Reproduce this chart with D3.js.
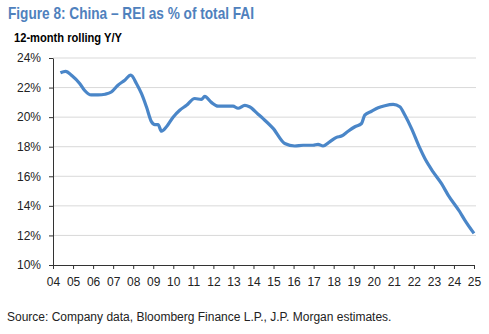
<!DOCTYPE html>
<html>
<head>
<meta charset="utf-8">
<script src="https://cdn.jsdelivr.net/npm/d3@7"></script>
<style>
body{margin:0;background:#fff;}
svg{display:block;}
</style>
</head>
<body>
<svg width="489" height="334"></svg>
<script>
const svg = d3.select('svg');

// data (decimal year, REI share of FAI in %)
const years = [2004.37,2004.63,2004.95,2005.33,2005.58,2005.91,2006.25,2006.6,2006.91,2007.24,
	2007.58,2007.88,2008.16,2008.41,2008.66,2008.91,2009.08,2009.24,2009.41,2009.66,
	2009.99,2010.32,2010.66,2011.07,2011.4,2011.57,2011.9,2012.23,2012.65,2012.98,
	2013.23,2013.57,2013.8,2014.23,2014.48,2014.98,2015.56,2016.06,2016.48,2016.97,
	2017.22,2017.47,2017.8,2018.14,2018.39,2018.72,2019.06,2019.39,2019.55,2019.89,
	2020.22,2020.55,2020.97,2021.3,2021.55,2021.88,2022.3,2022.55,2022.96,2023.38,
	2023.71,2024.29,2024.54,2025.0];
const values = [23.0,23.1,22.8,22.28,21.8,21.5,21.5,21.55,21.7,22.16,
	22.5,22.84,22.28,21.6,20.7,19.7,19.5,19.5,19.05,19.35,
	20.0,20.47,20.8,21.26,21.2,21.4,21.0,20.74,20.74,20.74,
	20.6,20.8,20.7,20.2,19.9,19.24,18.22,18.05,18.1,18.1,
	18.16,18.05,18.33,18.63,18.72,19.05,19.35,19.57,20.14,20.4,
	20.63,20.77,20.86,20.7,20.14,19.24,17.9,17.2,16.3,15.5,
	14.73,13.6,13.04,12.14];
const yTicks = [10,12,14,16,18,20,22,24];
const xTicks = d3.range(2004, 2026);

const data = years.map((y,i) => ({year:y, value:values[i]}));

const margin = {top:58, right:15, bottom:69, left:53};
const width = 489, height = 334;

const xScale = d3.scaleLinear().domain([2004,2025]).range([margin.left, 474]);
const yScale = d3.scaleLinear().domain([10,24]).range([height - margin.bottom, margin.top]);

// title + subtitle
svg.append('text')
	.attr('x',8).attr('y',19)
	.attr('font-family','"Liberation Sans Narrow", "Liberation Sans", Arial, sans-serif')
	.attr('font-weight','bold').attr('font-size',17)
	.attr('fill','#4f81bd')
	.attr('textLength',246).attr('lengthAdjust','spacingAndGlyphs')
	.text('Figure 8: China – REI as % of total FAI');

svg.append('text')
	.attr('x',14).attr('y',42)
	.attr('font-family','"Liberation Sans", Arial, sans-serif')
	.attr('font-weight','bold').attr('font-size',12)
	.attr('fill','#000')
	.attr('textLength',108).attr('lengthAdjust','spacingAndGlyphs')
	.text('12-month rolling Y/Y');

// gridlines
svg.append('g').selectAll('line').data(yTicks.filter(d => d > 10))
	.enter().append('line')
	.attr('x1',xScale(2004)).attr('x2',476)
	.attr('y1',d => yScale(d)).attr('y2',d => yScale(d))
	.attr('stroke','#d9d9d9').attr('stroke-width',1);

// y axis
const yAxis = d3.axisLeft(yScale).tickValues(yTicks).tickSize(4).tickSizeOuter(0)
	.tickFormat(d => d + '%');
const gy = svg.append('g').attr('transform',`translate(${margin.left},0)`).call(yAxis);
gy.selectAll('text').attr('font-family','"Liberation Sans", Arial, sans-serif')
	.attr('font-size',12).attr('fill','#222').attr('x',-12);
gy.selectAll('line,path').attr('stroke','#333');

// x axis
const xAxis = d3.axisBottom(xScale).tickValues(xTicks).tickSize(4).tickSizeOuter(0)
	.tickFormat(d => String(d).slice(2));
const gx = svg.append('g').attr('transform',`translate(0,${yScale(10)})`).call(xAxis);
gx.selectAll('text').attr('font-family','"Liberation Sans", Arial, sans-serif')
	.attr('font-size',12).attr('fill','#222').attr('dy','0').attr('y',21);
gx.selectAll('line,path').attr('stroke','#333');

// the line
const line = d3.line()
	.x(d => xScale(d.year))
	.y(d => yScale(d.value))
	.curve(d3.curveMonotoneX);

svg.append('path').datum(data)
	.attr('d',line)
	.attr('fill','none')
	.attr('stroke','#4a86c8')
	.attr('stroke-width',3.2)
	.attr('stroke-linejoin','round');

// source
svg.append('text')
	.attr('x',7).attr('y',321)
	.attr('font-family','"Liberation Sans", Arial, sans-serif')
	.attr('font-size',12).attr('fill','#222')
	.text('Source: Company data, Bloomberg Finance L.P., J.P. Morgan estimates.');
</script>
</body>
</html>
